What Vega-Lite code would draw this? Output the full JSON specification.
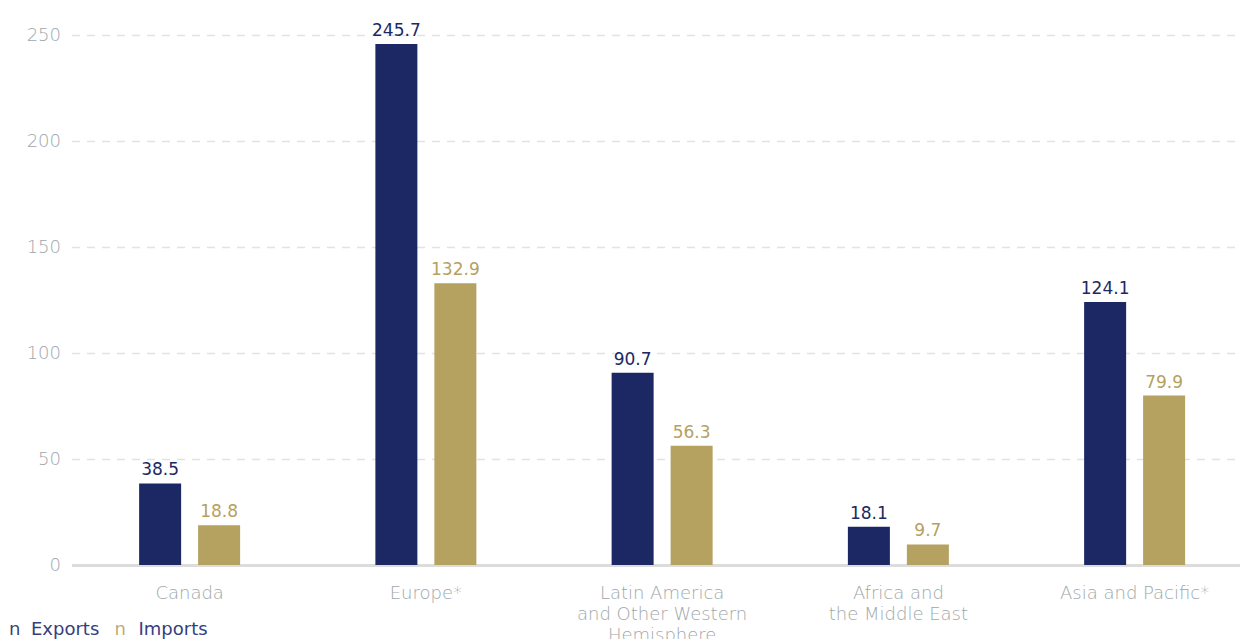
{
  "$schema": "https://vega.github.io/schema/vega-lite/v6.json",
  "autosize": "none",
  "width": 1168.5,
  "height": 530,
  "padding": {"left": 71.5, "top": 35, "right": 0, "bottom": 74},
  "background": "white",
  "config": {
    "view": {"stroke": null},
    "font": "DejaVu Sans",
    "text": {"font": "DejaVu Sans"}
  },
  "data": {
    "values": [
      {"region": "Canada", "series": "Exports", "value": 38.5},
      {"region": "Canada", "series": "Imports", "value": 18.8},
      {"region": "Europe*", "series": "Exports", "value": 245.7},
      {"region": "Europe*", "series": "Imports", "value": 132.9},
      {"region": "Latin America and Other Western Hemisphere", "series": "Exports", "value": 90.7},
      {"region": "Latin America and Other Western Hemisphere", "series": "Imports", "value": 56.3},
      {"region": "Africa and the Middle East", "series": "Exports", "value": 18.1},
      {"region": "Africa and the Middle East", "series": "Imports", "value": 9.7},
      {"region": "Asia and Pacific*", "series": "Exports", "value": 124.1},
      {"region": "Asia and Pacific*", "series": "Imports", "value": 79.9}
    ]
  },
  "encoding": {
    "x": {
      "field": "region",
      "type": "nominal",
      "sort": ["Canada", "Europe*", "Latin America and Other Western Hemisphere", "Africa and the Middle East", "Asia and Pacific*"],
      "scale": {"range": [0, 1181.25], "paddingInner": 0.5725, "paddingOuter": 0.28625},
      "axis": {
        "title": null,
        "labelAngle": 0,
        "ticks": false,
        "domainColor": "#dcdcdc",
        "domainWidth": 3,
        "labelColor": "#9ea7aa",
        "labelFont": "DejaVu Sans",
        "labelFontWeight": 200,
        "labelFontSize": 18,
        "labelPadding": 19,
        "labelLineHeight": 21,
        "labelBaseline": "top",
        "labelExpr": "datum.label == 'Latin America and Other Western Hemisphere' ? ['Latin America', 'and Other Western', 'Hemisphere'] : datum.label == 'Africa and the Middle East' ? ['Africa and', 'the Middle East'] : datum.label"
      }
    },
    "xOffset": {"field": "series", "type": "nominal", "scale": {"paddingInner": 0.288, "paddingOuter": 0}},
    "y": {
      "field": "value",
      "type": "quantitative",
      "scale": {"domain": [0, 250], "nice": false},
      "axis": {
        "title": null,
        "values": [0, 50, 100, 150, 200, 250],
        "domain": false,
        "ticks": false,
        "labelColor": "#9ea7aa",
        "labelFont": "DejaVu Sans",
        "labelFontWeight": 200,
        "labelFontSize": 18,
        "labelPadding": 11,
        "gridColor": "#e2e2e2",
        "gridWidth": 1.5,
        "gridDash": [8, 7]
      }
    },
    "color": {
      "field": "series",
      "type": "nominal",
      "scale": {"range": ["#1b2864", "#b5a160"]},
      "legend": {
        "orient": "none",
        "legendX": -80.5,
        "legendY": 586,
        "direction": "horizontal",
        "title": null,
        "symbolSize": 0,
        "symbolOpacity": 0,
        "symbolStrokeWidth": 0,
        "labelOffset": 0,
        "labelExpr": "'n'",
        "labelFont": "DejaVu Sans",
        "labelFontSize": 18,
        "columnPadding": 75.5,
        "encode": {"labels": {"update": {"fill": {"scale": "color", "field": "value"}, "fillOpacity": {"value": 0.9}}}}
      }
    }
  },
  "layer": [
    {
      "mark": {"type": "bar"},
      "encoding": {
        "opacity": {
          "field": "series",
          "type": "nominal",
          "scale": {"type": "ordinal", "domain": ["Exports", "Imports"], "range": [1, 1]},
          "legend": {
            "orient": "none",
            "legendX": -58.5,
            "legendY": 586,
            "direction": "horizontal",
            "title": null,
            "symbolSize": 0,
            "symbolOpacity": 0,
            "symbolStrokeWidth": 0,
            "labelOffset": 0,
            "labelColor": "#34407e",
            "labelFont": "DejaVu Sans",
            "labelFontSize": 18,
            "columnPadding": 20.5
          }
        }
      }
    },
    {
      "mark": {"type": "text", "baseline": "alphabetic", "dy": -8, "fontSize": 17, "font": "DejaVu Sans"},
      "encoding": {
        "text": {"field": "value", "type": "quantitative", "format": ".1f"},
        "color": {"field": "series", "type": "nominal", "scale": {"range": ["#34407e", "#bba867"]}}
      }
    }
  ]
}
